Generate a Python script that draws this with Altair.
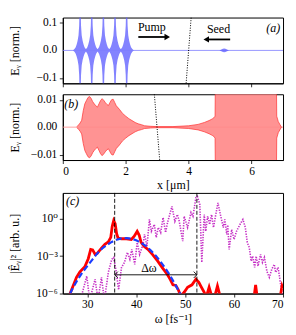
import altair as alt
import pandas as pd

FONT = "Liberation Serif, DejaVu Serif, serif"

# ---------------- panel (a): pump pulse train + seed ----------------
pulse_centers = [0.55, 0.92, 1.29, 1.66, 2.03]
pulse_offsets = [-0.18, -0.14, -0.11, -0.08, -0.05, -0.03, -0.015, 0.0,
                 0.015, 0.03, 0.05, 0.08, 0.11, 0.14, 0.18]
pulse_amps = [0.005, 0.012, 0.022, 0.035, 0.055, 0.09, 0.16, 0.30,
              0.16, 0.09, 0.055, 0.035, 0.022, 0.012, 0.005]
train_ends_x = [0.32, 2.26]

seed_x = [4.98, 5.04, 5.09, 5.13, 5.17, 5.22, 5.28]
seed_env = [0.0, 0.003, 0.006, 0.007, 0.006, 0.003, 0.0]

zero_x = [0.0, 7.0]
dens_a_x = [3.92, 4.08]
dens_a_y = [-0.12, 0.12]

pump_arrow_x = [2.40, 3.30]
pump_arrow_y = 0.049
pump_head_x = 3.32
seed_arrow_x = [4.58, 5.32]
seed_arrow_y = 0.040
seed_head_x = 4.56

labels_a = ["Pump", "Seed"]
labels_a_x = [2.83, 4.95]
labels_a_y = [0.086, 0.079]
tag_a = {"x": 6.69, "y": 0.083}

# ---------------- panel (b): scattered field ----------------
b_x = [0.45, 0.50, 0.55, 0.60, 0.65, 0.70, 0.75, 0.80, 0.85, 0.90, 0.95, 1.00,
       1.05, 1.10, 1.15, 1.20, 1.25, 1.30, 1.35, 1.40, 1.45, 1.50, 1.55, 1.60,
       1.65, 1.70, 1.80, 1.90, 2.00, 2.10, 2.20, 2.30, 2.40, 2.50, 2.60, 2.80,
       3.00, 3.50, 4.00, 4.30, 4.50, 4.65, 4.75, 4.80, 4.84, 4.86, 6.78, 6.80,
       6.85, 6.90, 6.95]
b_env = [0.0002, 0.0008, 0.0015, 0.0025, 0.006, 0.0085, 0.0097, 0.0108, 0.0112,
         0.0105, 0.0093, 0.0085, 0.0078, 0.0073, 0.0085, 0.0097, 0.0104, 0.0098,
         0.0090, 0.0083, 0.0079, 0.0090, 0.0100, 0.0102, 0.0090, 0.0078, 0.0065,
         0.0050, 0.0040, 0.0031, 0.0024, 0.0017, 0.0012, 0.0009, 0.0005, 0.0003,
         0.0002, 0.0002, 0.0005, 0.0010, 0.0017, 0.0024, 0.0030, 0.0034, 0.0040,
         0.0300, 0.0300, 0.0040, 0.0020, 0.0010, 0.0]
dens_b_x = [2.91, 3.08]
dens_b_y = [0.012, -0.012]
tag_b = {"x": 0.27, "y": 0.0086}

# ---------------- panel (c): spectra ----------------
red_w = [26.3, 26.5, 27.0, 27.8, 28.5, 29.5, 30.2, 30.7, 31.1, 31.6, 32.0, 32.9,
         33.6, 34.3, 34.8, 35.1, 35.4, 35.7, 36.0, 36.3, 37.0, 38.0, 39.0, 39.6,
         40.2, 40.6, 41.0, 41.6, 42.4, 43.4, 44.4, 45.4, 46.4, 47.0, 47.5, 48.1,
         48.6, 49.1, 49.8, 50.5, 51.4, 52.2, 52.8, 53.2, 53.9, 54.3, 54.9, 55.5,
         56.0, 56.6, 57.2, 58.0, 64.0, 64.4, 64.8, 69.3, 69.8, 70.0]
red_s = [5e-7, 1e-6, 3.2e-6, 2e-5, 5.6e-5, 1.4e-4, 6.3e-4, 3.5e-3, 3.2e-3, 1.4e-3,
         1.6e-3, 4.5e-3, 8.9e-3, 1.4e-2, 3.2e-2, 0.25, 0.71, 0.40, 6.3e-2, 2.8e-2,
         2.5e-2, 2.5e-2, 2.2e-2, 4.0e-2, 0.10, 5.0e-2, 1.26e-2, 6.3e-3, 3.5e-3,
         1.26e-3, 4.0e-4, 1.1e-4, 3.2e-5, 1.26e-5, 5e-6, 4.5e-6, 2e-6, 6.3e-7,
         1.26e-6, 3.2e-6, 5e-6, 1.4e-5, 7.9e-6, 4e-6, 1.26e-6, 5e-7, 3.2e-6, 5e-7,
         5e-7, 4e-6, 5e-7, 3e-7, 3e-7, 5e-6, 3e-7, 3e-7, 4e-6, 2.5e-6]

fit_w = [26.5, 27, 28, 29, 30, 31, 32, 33, 34, 35, 36, 37, 38, 39, 40, 41, 42,
         43, 44, 45, 46, 47, 48, 49, 49.5]
fit_s = [1e-6, 2.5e-6, 1.26e-5, 5e-5, 1.6e-4, 5e-4, 1.6e-3, 4e-3, 7.9e-3, 1.4e-2,
         2.1e-2, 2.7e-2, 2.8e-2, 2.5e-2, 1.9e-2, 1.2e-2, 6.3e-3, 2.8e-3, 1.1e-3,
         3.5e-4, 1e-4, 2.5e-5, 5e-6, 1e-6, 4e-7]

mag_w = [28.6, 29.9, 30.5, 31.6, 32.2, 32.9, 33.5, 34.3, 35.0, 35.4, 35.9, 36.4,
         37.0, 37.6, 38.2, 38.7, 39.1, 39.7, 40.2, 40.7, 41.4, 41.7, 42.2, 42.7,
         43.1, 43.7, 44.1, 44.5, 45.0, 45.5, 46.0, 46.4, 47.3, 47.9, 48.4, 48.8,
         49.5, 49.8, 50.5, 51.2, 51.6, 52.2, 52.5, 53.0, 53.4, 53.9, 54.2, 54.6,
         55.0, 55.4, 55.8, 56.2, 56.7, 57.2, 57.8, 58.1, 58.5, 58.7, 59.0, 59.5,
         60.0, 60.5, 61.2, 61.8, 62.3, 62.7, 63.1, 63.5, 63.8, 64.2, 64.5, 64.9,
         65.4, 65.8, 66.2, 66.7, 67.2, 67.7, 68.2, 68.5, 69.0, 69.6, 70.0]
mag_s = [3e-7, 2.5e-5, 3e-7, 1.4e-5, 3e-7, 2e-5, 3e-7, 5e-5, 5.6e-4, 7.9e-4,
         6.3e-5, 2e-6, 1.26e-4, 3.2e-4, 2e-3, 5.6e-4, 3.5e-3, 2.2e-4, 1.26e-2,
         1.4e-3, 8.9e-3, 5.6e-2, 6.3e-3, 0.89, 0.10, 0.35, 3.2e-2, 0.20, 7.9e-2,
         1.26, 7.9e-2, 0.50, 10.0, 0.63, 2.2, 0.63, 1.6e-2, 1.6, 0.20, 3.2, 1.6,
         50.0, 63.0, 14.0, 3.2e-4, 2.2, 0.10, 1.6, 0.35, 2.2, 0.20, 1.6, 19.0,
         2.2, 0.20, 0.89, 5.6e-2, 0.32, 3.5e-3, 0.14, 2.2e-2, 0.10, 0.35, 0.89,
         0.20, 1.26e-2, 5e-3, 4e-4, 1e-3, 1.26e-4, 1e-3, 1.6e-4, 1.4e-3, 3.2e-4,
         7.9e-4, 6.3e-5, 2e-5, 8.9e-5, 2.2e-4, 5e-5, 1.26e-4, 3.2e-6, 3e-7]

vlines_w = [35.6, 52.4]
dw_arrow_w = [35.6, 52.4]
dw_arrow_s = 3.2e-5
dw_label = {"w": 42.6, "s": 1.1e-4}
tag_c = {"w": 27.0, "s": 27.0}

# axis tick values / labels
ya_ticks = [-0.1, 0.0, 0.1]
ya_labels = ["−0.1", "0.0", "0.1"]
yb_ticks = [-0.01, 0.0, 0.01]
yb_labels = ["−0.01", "0.00", "0.01"]

# ---------------- build tables ----------------
rows = [{"x": train_ends_x[0], "env": 0.0}]
for c in pulse_centers:
    for o, a in zip(pulse_offsets, pulse_amps):
        rows.append({"x": c + o, "env": a})
rows.append({"x": train_ends_x[1], "env": 0.0})
pump_df = pd.DataFrame(rows).sort_values("x")
pump_df["lo"] = -pump_df["env"]

seed_df = pd.DataFrame({"x": seed_x, "env": seed_env})
seed_df["lo"] = -seed_df["env"]

b_df = pd.DataFrame({"x": b_x, "env": b_env})
b_df["lo"] = -b_df["env"]

W = 221
XA = alt.Scale(domain=[0, 7], nice=False, zero=False)
YA = alt.Scale(domain=[-0.12, 0.12], nice=False)
YB = alt.Scale(domain=[-0.012, 0.012], nice=False)
XC = alt.Scale(domain=[25, 70], nice=False, zero=False)
YC = alt.Scale(type="log", domain=[1e-6, 120], nice=False)

TX = -48

# panel a  (tick labels drawn as text through the y scale)
xa_axis = alt.Axis(values=[0, 2, 4, 6], labels=False, title=None)
ya_axis = alt.Axis(values=ya_ticks, labels=False, title="Eᵧ  [norm.]",
                   titleX=TX, titleBaseline="middle")

pump_area = alt.Chart(pump_df).mark_area(color="#6464ff", opacity=0.8, clip=True).encode(
    x=alt.X("x:Q", scale=XA, axis=xa_axis), y=alt.Y("lo:Q", scale=YA, axis=ya_axis), y2="env:Q")
zero_a = alt.Chart(pd.DataFrame({"x": zero_x, "y": [0, 0]})).mark_line(
    color="#7f7fff", strokeWidth=0.8).encode(
    x=alt.X("x:Q", scale=XA), y=alt.Y("y:Q", scale=YA))
seed_area = alt.Chart(seed_df).mark_area(color="#6464ff", opacity=0.8).encode(
    x=alt.X("x:Q", scale=XA), y=alt.Y("lo:Q", scale=YA), y2="env:Q")
dens_a = alt.Chart(pd.DataFrame({"x": dens_a_x, "y": dens_a_y})).mark_line(
    color="black", strokeWidth=1, strokeDash=[1, 1.5]).encode(
    x=alt.X("x:Q", scale=XA), y=alt.Y("y:Q", scale=YA))
pump_rule = alt.Chart(pd.DataFrame({"x": [pump_arrow_x[0]], "x2": [pump_arrow_x[1]], "y": [pump_arrow_y]})).mark_rule(
    color="black", strokeWidth=1.8).encode(x=alt.X("x:Q", scale=XA), x2="x2:Q", y=alt.Y("y:Q", scale=YA))
pump_head = alt.Chart(pd.DataFrame({"x": [pump_head_x], "y": [pump_arrow_y]})).mark_point(
    shape="triangle-right", filled=True, color="black", size=40, opacity=1).encode(
    x=alt.X("x:Q", scale=XA), y=alt.Y("y:Q", scale=YA))
seed_rule = alt.Chart(pd.DataFrame({"x": [seed_arrow_x[0]], "x2": [seed_arrow_x[1]], "y": [seed_arrow_y]})).mark_rule(
    color="black", strokeWidth=1.8).encode(x=alt.X("x:Q", scale=XA), x2="x2:Q", y=alt.Y("y:Q", scale=YA))
seed_head = alt.Chart(pd.DataFrame({"x": [seed_head_x], "y": [seed_arrow_y]})).mark_point(
    shape="triangle-left", filled=True, color="black", size=40, opacity=1).encode(
    x=alt.X("x:Q", scale=XA), y=alt.Y("y:Q", scale=YA))
text_a = alt.Chart(pd.DataFrame({"x": labels_a_x, "y": labels_a_y, "t": labels_a})).mark_text(
    font=FONT, fontSize=12, color="black").encode(
    x=alt.X("x:Q", scale=XA), y=alt.Y("y:Q", scale=YA), text="t:N")
tag_a_t = alt.Chart(pd.DataFrame({"x": [tag_a["x"]], "y": [tag_a["y"]], "t": ["(a)"]})).mark_text(
    font=FONT, fontSize=12, fontStyle="italic", color="black").encode(
    x=alt.X("x:Q", scale=XA), y=alt.Y("y:Q", scale=YA), text="t:N")
ylab_a = alt.Chart(pd.DataFrame({"v": ya_ticks, "t": ya_labels})).mark_text(
    font=FONT, fontSize=11.5, color="black", align="right", baseline="middle").encode(
    x=alt.value(-5.5), y=alt.Y("v:Q", scale=YA), text="t:N")

panel_a = alt.layer(pump_area, zero_a, seed_area, dens_a, pump_rule, pump_head,
                    seed_rule, seed_head, text_a, tag_a_t, ylab_a).properties(width=W, height=66)

# panel b
xb_axis = alt.Axis(values=[0, 2, 4, 6], format="d", title="x  [μm]", titlePadding=3)
yb_axis = alt.Axis(values=yb_ticks, labels=False, title="Eᵧ  [norm.]",
                   titleX=TX, titleBaseline="middle")
b_area = alt.Chart(b_df).mark_area(color="#ff8080", opacity=0.85, clip=True).encode(
    x=alt.X("x:Q", scale=XA, axis=xb_axis), y=alt.Y("lo:Q", scale=YB, axis=yb_axis), y2="env:Q")
zero_b = alt.Chart(pd.DataFrame({"x": zero_x, "y": [0, 0]})).mark_line(
    color="#ff8a8a", strokeWidth=0.8).encode(
    x=alt.X("x:Q", scale=XA), y=alt.Y("y:Q", scale=YB))
b_edge_hi = alt.Chart(b_df).mark_line(color="#ff3030", strokeWidth=0.7, clip=True).encode(
    x=alt.X("x:Q", scale=XA), y=alt.Y("env:Q", scale=YB))
b_edge_lo = alt.Chart(b_df).mark_line(color="#ff3030", strokeWidth=0.7, clip=True).encode(
    x=alt.X("x:Q", scale=XA), y=alt.Y("lo:Q", scale=YB))
dens_b = alt.Chart(pd.DataFrame({"x": dens_b_x, "y": dens_b_y})).mark_line(
    color="black", strokeWidth=1, strokeDash=[1, 1.5]).encode(
    x=alt.X("x:Q", scale=XA), y=alt.Y("y:Q", scale=YB))
tag_b_t = alt.Chart(pd.DataFrame({"x": [tag_b["x"]], "y": [tag_b["y"]], "t": ["(b)"]})).mark_text(
    font=FONT, fontSize=12, fontStyle="italic", color="black").encode(
    x=alt.X("x:Q", scale=XA), y=alt.Y("y:Q", scale=YB), text="t:N")
ylab_b = alt.Chart(pd.DataFrame({"v": yb_ticks, "t": yb_labels})).mark_text(
    font=FONT, fontSize=11.5, color="black", align="right", baseline="middle").encode(
    x=alt.value(-5.5), y=alt.Y("v:Q", scale=YB), text="t:N")
panel_b = alt.layer(b_area, zero_b, b_edge_hi, b_edge_lo, dens_b, tag_b_t, ylab_b).properties(width=W, height=66)

# panel c
xc_axis = alt.Axis(values=[30, 40, 50, 60, 70], format="d", title="ω  [fs⁻¹]", titlePadding=3)
yc_axis = alt.Axis(values=[1e-6, 1e-3, 1.0], title="|Êᵧ|²  [arb. u.]",
                   labelExpr="datum.value > 0.5 ? '10⁰' : (datum.value > 5e-4 ? '10⁻³' : '10⁻⁶')",
                   labelOverlap=False, titleX=TX, titleBaseline="middle")
mag = alt.Chart(pd.DataFrame({"w": mag_w, "s": mag_s})).mark_line(
    color="#c52ec5", strokeWidth=1.6, strokeDash=[1.3, 1.3], clip=True).encode(
    x=alt.X("w:Q", scale=XC, axis=xc_axis), y=alt.Y("s:Q", scale=YC, axis=yc_axis))
red = alt.Chart(pd.DataFrame({"w": red_w, "s": red_s})).mark_line(
    color="#ff0000", strokeWidth=2.8, clip=True).encode(
    x=alt.X("w:Q", scale=XC), y=alt.Y("s:Q", scale=YC))
fit = alt.Chart(pd.DataFrame({"w": fit_w, "s": fit_s})).mark_line(
    color="#1a3cff", strokeWidth=2.2, strokeDash=[6, 3], clip=True).encode(
    x=alt.X("w:Q", scale=XC), y=alt.Y("s:Q", scale=YC))
vl = alt.Chart(pd.DataFrame({"w": vlines_w})).mark_rule(
    color="black", strokeWidth=0.9, strokeDash=[4, 2]).encode(x=alt.X("w:Q", scale=XC))
dw_rule = alt.Chart(pd.DataFrame({"w": [dw_arrow_w[0]], "w2": [dw_arrow_w[1]], "s": [dw_arrow_s]})).mark_rule(
    color="black", strokeWidth=0.9).encode(x=alt.X("w:Q", scale=XC), x2="w2:Q", y=alt.Y("s:Q", scale=YC))
dw_heads = alt.Chart(pd.DataFrame({"w": dw_arrow_w, "s": [dw_arrow_s, dw_arrow_s],
                                   "d": ["l", "r"]})).mark_point(
    filled=False, color="black", strokeWidth=0.9, size=40, opacity=1).encode(
    x=alt.X("w:Q", scale=XC), y=alt.Y("s:Q", scale=YC),
    shape=alt.Shape("d:N", scale=alt.Scale(domain=["l", "r"],
                                           range=["M 1 -1 L 0 0 L 1 1", "M -1 -1 L 0 0 L -1 1"]),
                    legend=None))
dw_text = alt.Chart(pd.DataFrame({"w": [dw_label["w"]], "s": [dw_label["s"]], "t": ["Δω"]})).mark_text(
    font=FONT, fontSize=12, color="black").encode(
    x=alt.X("w:Q", scale=XC), y=alt.Y("s:Q", scale=YC), text="t:N")
tag_c_t = alt.Chart(pd.DataFrame({"w": [tag_c["w"]], "s": [tag_c["s"]], "t": ["(c)"]})).mark_text(
    font=FONT, fontSize=12, fontStyle="italic", color="black").encode(
    x=alt.X("w:Q", scale=XC), y=alt.Y("s:Q", scale=YC), text="t:N")
panel_c = alt.layer(mag, red, fit, vl, dw_rule, dw_heads, dw_text, tag_c_t).properties(width=W, height=101)

top = alt.vconcat(panel_a, panel_b, spacing=3)
chart = alt.vconcat(top, panel_c, spacing=0).properties(
    padding={"left": 0, "top": 6, "right": 2, "bottom": 0}
).configure_axis(
    grid=False, domainColor="black", domainWidth=1, tickColor="black", tickSize=3.5,
    tickWidth=0.8, labelFont=FONT, labelFontSize=11.5, labelColor="black",
    titleFont=FONT, titleFontSize=12, titleFontWeight="normal", titleColor="black",
    labelPadding=2, labelOverlap=False
).configure_view(stroke="black", strokeWidth=1)

chart.save("out.html", embed_options={"renderer": "svg", "actions": False})
